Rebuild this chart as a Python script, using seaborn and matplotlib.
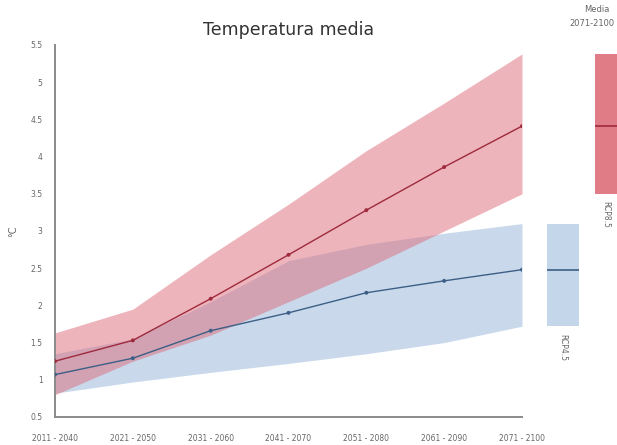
import numpy as np
import pandas as pd
import matplotlib
matplotlib.use("Agg")
import matplotlib.pyplot as plt
import seaborn as sns

# Thirty-year windows
periods = ["2011 - 2040", "2021 - 2050", "2031 - 2060", "2041 - 2070",
           "2051 - 2080", "2061 - 2090", "2071 - 2100"]

# RCP8.5 ensemble: mean and spread (°C)
rcp85_mean = [1.25, 1.53, 2.09, 2.68, 3.28, 3.86, 4.41]
rcp85_high = [1.63, 1.95, 2.68, 3.36, 4.08, 4.72, 5.38]
rcp85_low = [0.80, 1.25, 1.60, 2.05, 2.50, 3.00, 3.50]

# RCP4.5 ensemble: mean and spread (°C)
rcp45_mean = [1.07, 1.29, 1.66, 1.90, 2.17, 2.33, 2.48]
rcp45_high = [1.35, 1.55, 2.05, 2.60, 2.82, 2.97, 3.10]
rcp45_low = [0.82, 0.97, 1.10, 1.22, 1.35, 1.50, 1.72]

y_ticks = [0.5, 1, 1.5, 2, 2.5, 3, 3.5, 4, 4.5, 5, 5.5]

RED_FILL = "#dc6a7a"
RED_LINE = "#9e2a3c"
RED_BAR = "#e07c86"
BLUE_FILL = "#a9c3e0"
BLUE_LINE = "#3d5f86"
BLUE_BAR = "#c3d6ea"
GREY = "#666666"

sns.set_style("white")
plt.rcParams["font.family"] = ["DejaVu Sans"]

W, H = 617, 445
fig = plt.figure(figsize=(W / 100, H / 100), dpi=100)

x0, x1 = 55, 522
y_top, y_bot = 45, 417
ax = fig.add_axes([x0 / W, 1 - y_bot / H, (x1 - x0) / W, (y_bot - y_top) / H])

pos = np.arange(len(periods))
df = pd.DataFrame({
    "pos": np.concatenate([pos, pos]),
    "value": rcp45_mean + rcp85_mean,
    "scenario": ["RCP4.5"] * len(pos) + ["RCP8.5"] * len(pos),
})

ax.fill_between(pos, rcp45_low, rcp45_high, color=BLUE_FILL, alpha=0.62, lw=0, zorder=1)
ax.fill_between(pos, rcp85_low, rcp85_high, color=RED_FILL, alpha=0.5, lw=0, zorder=2)

sns.lineplot(data=df, x="pos", y="value", hue="scenario",
             palette={"RCP4.5": BLUE_LINE, "RCP8.5": RED_LINE},
             linewidth=1.0, legend=False, ax=ax, zorder=3)
sns.scatterplot(data=df, x="pos", y="value", hue="scenario",
                palette={"RCP4.5": BLUE_LINE, "RCP8.5": RED_LINE},
                s=8, linewidth=0, legend=False, ax=ax, zorder=4)

ax.set_xlim(0, len(periods) - 1)
ax.set_ylim(0.5, 5.5)
ax.set_xticks(pos)
ax.set_xticklabels(periods)
ax.set_yticks(y_ticks)
ax.set_yticklabels([f"{t:g}" for t in y_ticks])
ax.set_xlabel("")
ax.set_ylabel("°C", color=GREY, fontsize=7, rotation=90)
ax.yaxis.set_label_coords(-0.079, 0.5)

for side in ("top", "right"):
    ax.spines[side].set_visible(False)
for side in ("left", "bottom"):
    ax.spines[side].set_color("#8a8a8a")
    ax.spines[side].set_linewidth(1.4)
ax.tick_params(axis="both", colors="#8a8a8a", labelcolor=GREY,
               labelsize=5.5, length=3, width=0.8, direction="out")
ax.tick_params(axis="x", pad=9)
ax.tick_params(axis="y", pad=6)

fig.text((x0 + x1) / 2 / W, 1 - 30 / H, "Temperatura media",
         ha="center", va="center", fontsize=12.5, color="#333333")

# Side panel: 2071-2100 range and mean of each scenario
bx0 = 540
ax2 = fig.add_axes([bx0 / W, 1 - y_bot / H, (W - bx0) / W, (y_bot - y_top) / H])
ax2.set_xlim(0, W - bx0)
ax2.set_ylim(0.5, 5.5)
ax2.axis("off")

blue_x, blue_w = 7, 32
red_x, red_w = 55, 30
ax2.bar(blue_x, rcp45_high[-1] - rcp45_low[-1], bottom=rcp45_low[-1],
        width=blue_w, align="edge", color=BLUE_BAR, lw=0)
ax2.bar(red_x, rcp85_high[-1] - rcp85_low[-1], bottom=rcp85_low[-1],
        width=red_w, align="edge", color=RED_BAR, lw=0)
ax2.hlines(rcp45_mean[-1], blue_x, blue_x + blue_w, color=BLUE_LINE, lw=1.2)
ax2.hlines(rcp85_mean[-1], red_x, red_x + red_w, color=RED_LINE, lw=1.2)

ax2.text(blue_x + blue_w / 2, rcp45_low[-1] - 0.1, "RCP4.5", rotation=270,
         ha="center", va="top", fontsize=5.5, color=GREY)
ax2.text(red_x + 11, rcp85_low[-1] - 0.1, "RCP8.5", rotation=270,
         ha="center", va="top", fontsize=5.5, color=GREY)

fig.text(597 / W, 1 - 10 / H, "Media", ha="center", va="center",
         fontsize=6, color=GREY)
fig.text(615 / W, 1 - 24 / H, "2071-2100", ha="right", va="center",
         fontsize=6, color=GREY)

fig.savefig("out.png", dpi=100)
